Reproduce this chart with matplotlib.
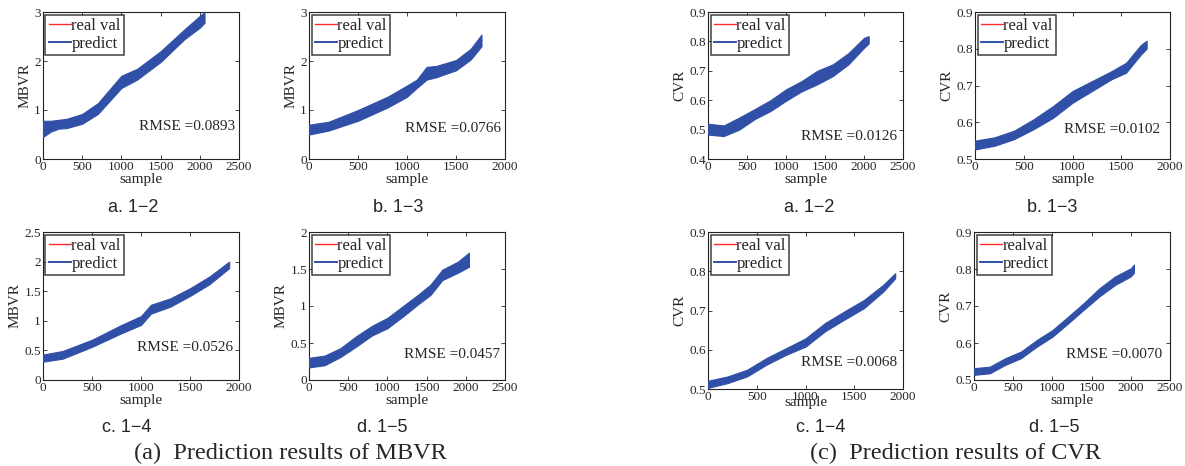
import matplotlib
matplotlib.use("Agg")
import matplotlib.pyplot as plt
from matplotlib.lines import Line2D
from matplotlib.ticker import FuncFormatter, MultipleLocator

# ---------------- data ----------------
# MBVR 1-2
mbvr12_x = [0, 100, 200, 300, 500, 700, 1000, 1200, 1500, 1800, 2000, 2060]
mbvr12_real = [0.58, 0.66, 0.70, 0.72, 0.80, 1.02, 1.55, 1.72, 2.08, 2.52, 2.78, 2.88]
mbvr12_lo = [0.45, 0.56, 0.62, 0.63, 0.72, 0.92, 1.45, 1.62, 1.98, 2.44, 2.68, 2.78]
mbvr12_hi = [0.78, 0.78, 0.80, 0.82, 0.92, 1.14, 1.70, 1.84, 2.20, 2.64, 2.92, 3.00]
# MBVR 1-3
mbvr13_x = [0, 200, 500, 800, 1000, 1100, 1200, 1300, 1400, 1500, 1650, 1760]
mbvr13_real = [0.58, 0.66, 0.88, 1.15, 1.38, 1.53, 1.72, 1.77, 1.84, 1.91, 2.13, 2.42]
mbvr13_lo = [0.50, 0.58, 0.78, 1.05, 1.27, 1.45, 1.62, 1.67, 1.74, 1.81, 2.03, 2.30]
mbvr13_hi = [0.70, 0.76, 1.00, 1.27, 1.50, 1.62, 1.88, 1.90, 1.96, 2.02, 2.25, 2.54]
# MBVR 1-4
mbvr14_x = [0, 200, 500, 800, 1000, 1100, 1300, 1500, 1700, 1900]
mbvr14_real = [0.37, 0.42, 0.62, 0.86, 1.00, 1.18, 1.30, 1.48, 1.68, 1.95]
mbvr14_lo = [0.31, 0.36, 0.56, 0.79, 0.93, 1.12, 1.24, 1.42, 1.62, 1.89]
mbvr14_hi = [0.43, 0.49, 0.68, 0.93, 1.08, 1.27, 1.38, 1.55, 1.75, 2.00]
# MBVR 1-5
mbvr15_x = [0, 200, 400, 600, 800, 1000, 1200, 1400, 1550, 1700, 1900, 2040]
mbvr15_real = [0.24, 0.27, 0.37, 0.52, 0.67, 0.77, 0.93, 1.10, 1.22, 1.42, 1.53, 1.66]
mbvr15_lo = [0.17, 0.20, 0.31, 0.45, 0.60, 0.70, 0.86, 1.03, 1.15, 1.35, 1.45, 1.53]
mbvr15_hi = [0.30, 0.33, 0.43, 0.59, 0.73, 0.84, 1.00, 1.16, 1.29, 1.49, 1.60, 1.72]
# CVR 1-2
cvr12_x = [0, 200, 400, 600, 800, 1000, 1200, 1400, 1600, 1800, 2000, 2060]
cvr12_real = [0.500, 0.496, 0.520, 0.553, 0.582, 0.617, 0.647, 0.676, 0.702, 0.742, 0.795, 0.806]
cvr12_lo = [0.483, 0.478, 0.500, 0.536, 0.563, 0.598, 0.630, 0.654, 0.682, 0.722, 0.778, 0.793]
cvr12_hi = [0.520, 0.514, 0.541, 0.570, 0.600, 0.637, 0.665, 0.700, 0.722, 0.760, 0.812, 0.818]
# CVR 1-3
cvr13_x = [0, 200, 400, 600, 800, 1000, 1200, 1400, 1550, 1700, 1760]
cvr13_real = [0.535, 0.547, 0.566, 0.594, 0.628, 0.668, 0.698, 0.728, 0.748, 0.797, 0.810]
cvr13_lo = [0.526, 0.536, 0.554, 0.581, 0.612, 0.653, 0.685, 0.717, 0.735, 0.784, 0.800]
cvr13_hi = [0.550, 0.559, 0.577, 0.608, 0.644, 0.685, 0.712, 0.739, 0.762, 0.810, 0.822]
# CVR 1-4
cvr14_x = [0, 200, 400, 600, 800, 1000, 1200, 1400, 1600, 1800, 1920]
cvr14_real = [0.512, 0.523, 0.540, 0.570, 0.596, 0.618, 0.657, 0.687, 0.717, 0.757, 0.789]
cvr14_lo = [0.503, 0.515, 0.532, 0.562, 0.587, 0.608, 0.647, 0.677, 0.706, 0.749, 0.782]
cvr14_hi = [0.521, 0.532, 0.549, 0.579, 0.604, 0.629, 0.668, 0.698, 0.727, 0.766, 0.795]
# CVR 1-5
cvr15_x = [0, 200, 400, 600, 800, 1000, 1200, 1400, 1600, 1800, 2000, 2040]
cvr15_real = [0.523, 0.527, 0.550, 0.568, 0.600, 0.626, 0.662, 0.699, 0.737, 0.768, 0.791, 0.806]
cvr15_lo = [0.514, 0.518, 0.541, 0.559, 0.590, 0.617, 0.653, 0.690, 0.726, 0.757, 0.780, 0.790]
cvr15_hi = [0.532, 0.536, 0.559, 0.577, 0.608, 0.635, 0.671, 0.708, 0.748, 0.780, 0.802, 0.812]

rmse_labels = ["RMSE =0.0893", "RMSE =0.0766", "RMSE =0.0526", "RMSE =0.0457",
               "RMSE =0.0126", "RMSE =0.0102", "RMSE =0.0068", "RMSE =0.0070"]
sub_labels = ["a. 1\u22122", "b. 1\u22123", "c. 1\u22124", "d. 1\u22125"]
legend_labels = [("real val", "predict")] * 7 + [("realval", "predict")]
captions = ["(a)  Prediction results of MBVR", "(c)  Prediction results of CVR"]

# ---------------- layout ----------------
W, H = 1185, 466
fig = plt.figure(figsize=(W / 100, H / 100), dpi=100)
fig.patch.set_facecolor("white")

SERIF = ["Liberation Serif", "DejaVu Serif"]
SANS = ["Liberation Sans", "DejaVu Sans"]
TXT = "#262626"
RED = "#FF2A2A"
BLUE = "#3050A8"

panels = [
    # (x, real, lo, hi, box px (l, t, r, b), xlim, ylim, ystep, ylabel, rmse pos)
    (mbvr12_x, mbvr12_real, mbvr12_lo, mbvr12_hi, (43, 12, 239, 159), 2500, (0, 3), 1, "MBVR", (0.98, 0.22)),
    (mbvr13_x, mbvr13_real, mbvr13_lo, mbvr13_hi, (309, 12, 505, 159), 2000, (0, 3), 1, "MBVR", (0.98, 0.21)),
    (mbvr14_x, mbvr14_real, mbvr14_lo, mbvr14_hi, (43, 232, 239, 380), 2000, (0, 2.5), 0.5, "MBVR", (0.97, 0.22)),
    (mbvr15_x, mbvr15_real, mbvr15_lo, mbvr15_hi, (309, 232, 505, 380), 2500, (0, 2), 0.5, "MBVR", (0.975, 0.17)),
    (cvr12_x, cvr12_real, cvr12_lo, cvr12_hi, (708, 12, 903, 159), 2500, (0.4, 0.9), 0.1, "CVR", (0.97, 0.15)),
    (cvr13_x, cvr13_real, cvr13_lo, cvr13_hi, (975, 12, 1170, 159), 2000, (0.5, 0.9), 0.1, "CVR", (0.95, 0.20)),
    (cvr14_x, cvr14_real, cvr14_lo, cvr14_hi, (708, 232, 903, 389), 2000, (0.5, 0.9), 0.1, "CVR", (0.97, 0.17)),
    (cvr15_x, cvr15_real, cvr15_lo, cvr15_hi, (974, 232, 1170, 380), 2500, (0.5, 0.9), 0.1, "CVR", (0.96, 0.17)),
]

fmt = FuncFormatter(lambda v, p: ("%g" % round(v, 6)))

for i, (x, real, lo, hi, box, xmax, ylim, ystep, ylab, rpos) in enumerate(panels):
    l, t, r, b = box
    ax = fig.add_axes([l / W, 1 - b / H, (r - l) / W, (b - t) / H])
    ax.plot(x, real, color=RED, lw=1.0, zorder=2)
    ax.fill_between(x, lo, hi, color=BLUE, lw=0.8, edgecolor=BLUE, zorder=3)
    ax.set_xlim(0, xmax)
    ax.set_ylim(*ylim)
    ax.xaxis.set_major_locator(MultipleLocator(500))
    ax.yaxis.set_major_locator(MultipleLocator(ystep))
    ax.yaxis.set_major_formatter(fmt)
    ax.tick_params(direction="in", top=True, right=True, length=3, width=0.6,
                   labelsize=9.5, colors=TXT, pad=1.5)
    for lab in ax.get_xticklabels() + ax.get_yticklabels():
        lab.set_fontfamily(SERIF)
    for s in ax.spines.values():
        s.set_linewidth(0.8)
        s.set_color("#222222")
    ax.set_ylabel(ylab, fontsize=11, family=SERIF, color=TXT, labelpad=2)
    ax.set_xlabel("sample", fontsize=11, family=SERIF, color=TXT,
                  labelpad=(-5 if i == 6 else 0))
    ax.text(rpos[0], rpos[1], rmse_labels[i], transform=ax.transAxes, ha="right",
            va="center", fontsize=11, family=SERIF, color=TXT)
    handles = [Line2D([], [], color=RED, lw=1.0), Line2D([], [], color=BLUE, lw=1.4)]
    leg = ax.legend(handles, legend_labels[i], loc="upper left", fancybox=False,
                    frameon=True, borderaxespad=0.15, handlelength=1.3, handletextpad=0.05,
                    borderpad=0.2, labelspacing=0.12,
                    prop={"family": SERIF, "size": 12})
    leg.get_frame().set_edgecolor("#111111")
    leg.get_frame().set_linewidth(1.1)
    for tx in leg.get_texts():
        tx.set_color(TXT)

# sub labels
sub_pos = [(133, 208), (398, 208), (127, 427), (382, 427),
           (809, 208), (1052, 208), (821, 427), (1054, 427)]
for j, (px, py) in enumerate(sub_pos):
    fig.text(px / W, 1 - py / H, sub_labels[j % 4], ha="center", va="center",
             fontsize=13, family=SANS, color=TXT)

fig.text(290 / W, 1 - 453 / H, captions[0], ha="center", va="center",
         fontsize=17.5, family=SERIF, color=TXT)
fig.text(956 / W, 1 - 453 / H, captions[1], ha="center", va="center",
         fontsize=17.5, family=SERIF, color=TXT)

fig.savefig("out.png", dpi=100, facecolor="white")
